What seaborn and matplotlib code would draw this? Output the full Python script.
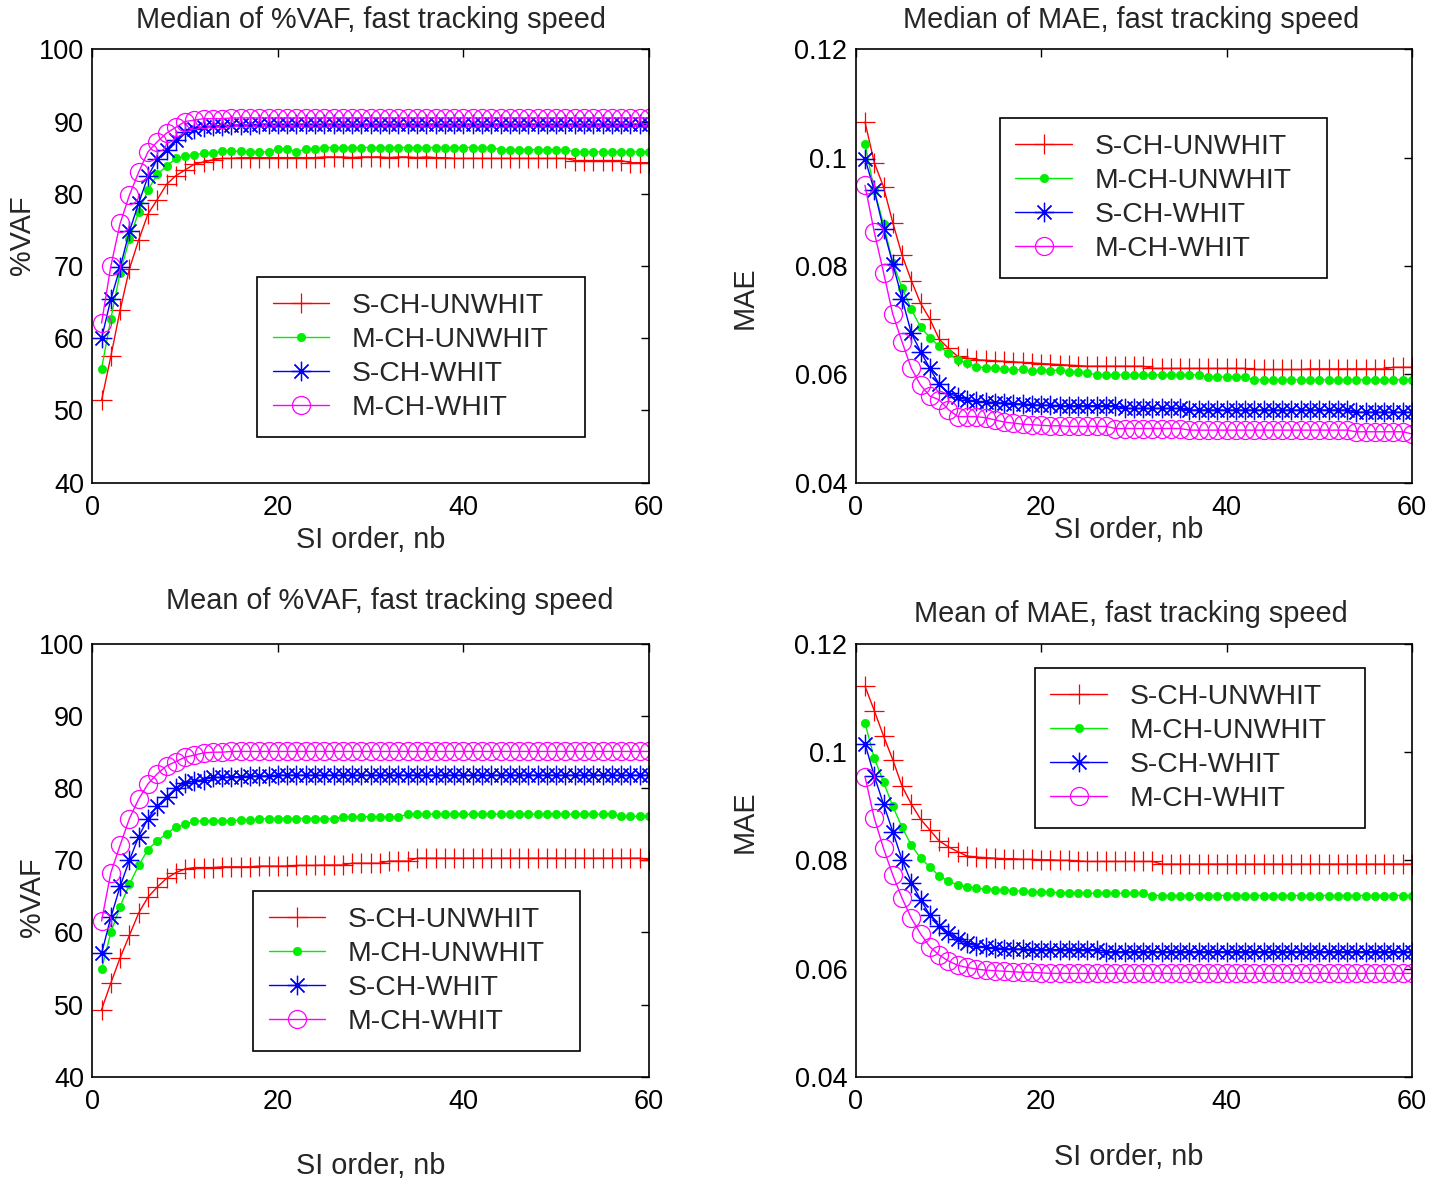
import numpy as np
import pandas as pd
import matplotlib
matplotlib.use("Agg")
import matplotlib.pyplot as plt
import seaborn as sns
from matplotlib.ticker import FormatStrFormatter

# ---------------- data ----------------
nb = list(range(1, 61))
series_names = ["S-CH-UNWHIT", "M-CH-UNWHIT", "S-CH-WHIT", "M-CH-WHIT"]

# Median of %VAF
med_vaf_s_unw = [51.4, 57.5, 63.9, 69.6, 73.6, 77.2, 79.2, 81.3, 82.5, 83.3,
                 84.1, 84.4, 84.7, 84.9, 84.9, 85.0, 85.0, 85.0, 85.0, 85.0,
                 85.0, 85.0, 85.0, 85.0, 85.1, 85.1, 85.1, 85.0, 85.1, 85.1,
                 85.1, 85.0, 85.1, 85.1, 85.0, 85.1, 85.0, 85.0, 84.9, 84.9,
                 84.9, 84.9, 84.9, 84.9, 84.9, 84.9, 84.9, 84.9, 84.9, 84.9,
                 84.9, 84.6, 84.6, 84.6, 84.6, 84.6, 84.6, 84.3, 84.3, 84.3]
med_vaf_m_unw = [55.8, 62.7, 69.1, 73.7, 77.5, 80.5, 82.7, 83.8, 84.9, 85.2,
                 85.4, 85.6, 85.6, 85.9, 85.9, 85.9, 85.8, 85.8, 85.8, 86.2,
                 86.2, 85.8, 86.2, 86.2, 86.4, 86.4, 86.4, 86.4, 86.4, 86.4,
                 86.4, 86.4, 86.4, 86.4, 86.4, 86.4, 86.4, 86.4, 86.4, 86.4,
                 86.4, 86.4, 86.4, 86.1, 86.1, 86.1, 86.1, 86.1, 86.1, 86.1,
                 86.1, 85.8, 85.8, 85.8, 85.8, 85.8, 85.8, 85.8, 85.8, 85.8]
med_vaf_s_wh = [60.0, 65.4, 69.8, 74.8, 78.7, 82.4, 84.8, 86.1, 87.5, 88.6,
                88.9, 89.2, 89.4, 89.4, 89.5, 89.5, 89.5, 89.6, 89.6, 89.6,
                89.6, 89.6, 89.6, 89.6, 89.6, 89.6, 89.6, 89.6, 89.6, 89.6,
                89.6, 89.6, 89.6, 89.6, 89.6, 89.6, 89.6, 89.6, 89.6, 89.6,
                89.6, 89.6, 89.6, 89.6, 89.6, 89.6, 89.6, 89.6, 89.6, 89.6,
                89.6, 89.6, 89.6, 89.6, 89.6, 89.6, 89.6, 89.6, 89.6, 89.6]
med_vaf_m_wh = [62.1, 70.0, 75.9, 79.8, 83.0, 85.8, 87.2, 88.4, 89.2, 90.0,
                90.2, 90.4, 90.4, 90.4, 90.5, 90.5, 90.5, 90.5, 90.5, 90.5,
                90.5, 90.5, 90.5, 90.5, 90.5, 90.5, 90.5, 90.5, 90.5, 90.5,
                90.5, 90.5, 90.5, 90.5, 90.5, 90.5, 90.5, 90.5, 90.5, 90.5,
                90.5, 90.5, 90.5, 90.5, 90.5, 90.5, 90.5, 90.5, 90.5, 90.5,
                90.5, 90.5, 90.5, 90.5, 90.5, 90.5, 90.5, 90.5, 90.5, 90.5]

# Median of MAE
med_mae_s_unw = [0.1066, 0.0991, 0.0946, 0.0880, 0.0820, 0.0773, 0.0731, 0.0702, 0.0665, 0.0648,
                 0.0633, 0.0630, 0.0627, 0.0626, 0.0625, 0.0624, 0.0623, 0.0622, 0.0621, 0.0620,
                 0.0619, 0.0618, 0.0617, 0.0616, 0.0615, 0.0615, 0.0615, 0.0615, 0.0615, 0.0615,
                 0.0615, 0.0611, 0.0611, 0.0611, 0.0611, 0.0611, 0.0611, 0.0611, 0.0611, 0.0611,
                 0.0611, 0.0611, 0.0609, 0.0609, 0.0609, 0.0609, 0.0609, 0.0609, 0.0610, 0.0610,
                 0.0610, 0.0610, 0.0610, 0.0610, 0.0610, 0.0610, 0.0610, 0.0613, 0.0613, 0.0613]
med_mae_m_unw = [0.1026, 0.0940, 0.0877, 0.0806, 0.0760, 0.0720, 0.0687, 0.0668, 0.0652, 0.0639,
                 0.0626, 0.0621, 0.0614, 0.0612, 0.0611, 0.0610, 0.0608, 0.0609, 0.0606, 0.0608,
                 0.0607, 0.0608, 0.0605, 0.0604, 0.0603, 0.0599, 0.0599, 0.0599, 0.0599, 0.0599,
                 0.0599, 0.0599, 0.0599, 0.0599, 0.0599, 0.0599, 0.0599, 0.0595, 0.0595, 0.0595,
                 0.0595, 0.0595, 0.0590, 0.0590, 0.0590, 0.0590, 0.0590, 0.0590, 0.0590, 0.0590,
                 0.0590, 0.0590, 0.0590, 0.0590, 0.0590, 0.0590, 0.0590, 0.0590, 0.0590, 0.0590]
med_mae_s_wh = [0.0998, 0.0940, 0.0868, 0.0804, 0.0740, 0.0676, 0.0642, 0.0611, 0.0582, 0.0566,
                0.0558, 0.0553, 0.0550, 0.0549, 0.0548, 0.0547, 0.0546, 0.0545, 0.0544, 0.0543,
                0.0543, 0.0542, 0.0542, 0.0542, 0.0542, 0.0542, 0.0542, 0.0542, 0.0537, 0.0537,
                0.0537, 0.0537, 0.0537, 0.0537, 0.0537, 0.0534, 0.0534, 0.0534, 0.0534, 0.0534,
                0.0534, 0.0534, 0.0534, 0.0534, 0.0534, 0.0534, 0.0534, 0.0534, 0.0534, 0.0534,
                0.0534, 0.0534, 0.0534, 0.0530, 0.0530, 0.0530, 0.0530, 0.0530, 0.0530, 0.0530]
med_mae_m_wh = [0.0949, 0.0863, 0.0788, 0.0711, 0.0660, 0.0611, 0.0580, 0.0560, 0.0553, 0.0535,
                0.0522, 0.0522, 0.0522, 0.0520, 0.0516, 0.0512, 0.0510, 0.0508, 0.0507, 0.0506,
                0.0505, 0.0505, 0.0504, 0.0504, 0.0504, 0.0504, 0.0504, 0.0500, 0.0500, 0.0500,
                0.0500, 0.0500, 0.0500, 0.0500, 0.0500, 0.0497, 0.0497, 0.0497, 0.0497, 0.0497,
                0.0497, 0.0497, 0.0497, 0.0497, 0.0497, 0.0497, 0.0497, 0.0497, 0.0497, 0.0497,
                0.0497, 0.0497, 0.0497, 0.0494, 0.0494, 0.0494, 0.0494, 0.0494, 0.0494, 0.0490]

# Mean of %VAF
mean_vaf_s_unw = [49.3, 53.0, 56.5, 59.6, 62.7, 64.9, 66.3, 67.5, 68.3, 68.8,
                  69.0, 69.0, 69.0, 69.1, 69.1, 69.1, 69.1, 69.2, 69.2, 69.2,
                  69.2, 69.3, 69.3, 69.3, 69.35, 69.35, 69.35, 69.6, 69.6, 69.6,
                  69.6, 69.9, 69.9, 69.9, 70.3, 70.3, 70.3, 70.3, 70.3, 70.3,
                  70.3, 70.3, 70.3, 70.3, 70.3, 70.3, 70.3, 70.3, 70.3, 70.3,
                  70.3, 70.3, 70.3, 70.3, 70.3, 70.3, 70.3, 70.3, 70.3, 70.1]
mean_vaf_m_unw = [54.9, 60.0, 63.6, 66.7, 69.3, 71.5, 72.7, 73.7, 74.6, 75.0,
                  75.4, 75.5, 75.5, 75.5, 75.5, 75.6, 75.6, 75.7, 75.8, 75.8,
                  75.8, 75.8, 75.8, 75.8, 75.8, 75.7, 76.05, 76.05, 76.05, 76.05,
                  76.05, 76.05, 76.05, 76.4, 76.4, 76.4, 76.4, 76.4, 76.4, 76.4,
                  76.4, 76.4, 76.4, 76.4, 76.4, 76.4, 76.4, 76.4, 76.4, 76.4,
                  76.4, 76.4, 76.4, 76.4, 76.4, 76.4, 76.1, 76.1, 76.1, 76.1]
mean_vaf_s_wh = [57.1, 62.1, 66.4, 70.0, 73.3, 75.8, 77.5, 78.8, 80.0, 80.7,
                 81.0, 81.2, 81.5, 81.5, 81.6, 81.6, 81.7, 81.7, 81.7, 81.8,
                 81.8, 81.8, 81.8, 81.8, 81.8, 81.8, 81.8, 81.8, 81.8, 81.8,
                 81.8, 81.8, 81.8, 81.8, 81.8, 81.8, 81.8, 81.8, 81.8, 81.8,
                 81.8, 81.8, 81.8, 81.8, 81.8, 81.8, 81.8, 81.8, 81.8, 81.8,
                 81.8, 81.8, 81.8, 81.8, 81.8, 81.8, 81.8, 81.8, 81.8, 81.8]
mean_vaf_m_wh = [61.6, 68.3, 72.1, 75.8, 78.5, 80.6, 82.0, 83.1, 83.7, 84.3,
                 84.6, 84.9, 85.0, 85.0, 85.1, 85.1, 85.1, 85.1, 85.1, 85.1,
                 85.1, 85.1, 85.1, 85.1, 85.1, 85.1, 85.1, 85.1, 85.1, 85.1,
                 85.1, 85.1, 85.1, 85.1, 85.1, 85.1, 85.1, 85.1, 85.1, 85.1,
                 85.1, 85.1, 85.1, 85.1, 85.1, 85.1, 85.1, 85.1, 85.1, 85.1,
                 85.1, 85.1, 85.1, 85.1, 85.1, 85.1, 85.1, 85.1, 85.1, 85.1]

# Mean of MAE
mean_mae_s_unw = [0.1122, 0.1077, 0.1030, 0.0986, 0.0937, 0.0904, 0.0876, 0.0856, 0.0836, 0.0825,
                  0.0816, 0.0808, 0.0806, 0.0805, 0.0804, 0.0803, 0.0803, 0.0802, 0.0802, 0.0801,
                  0.0801, 0.0800, 0.0800, 0.0799, 0.0798, 0.0798, 0.0798, 0.0798, 0.0798, 0.0798,
                  0.0798, 0.0798, 0.0793, 0.0793, 0.0793, 0.0793, 0.0793, 0.0793, 0.0793, 0.0793,
                  0.0793, 0.0793, 0.0793, 0.0793, 0.0793, 0.0793, 0.0793, 0.0793, 0.0793, 0.0793,
                  0.0793, 0.0793, 0.0793, 0.0793, 0.0793, 0.0793, 0.0793, 0.0793, 0.0793, 0.0793]
mean_mae_m_unw = [0.1054, 0.0989, 0.0945, 0.0900, 0.0861, 0.0828, 0.0804, 0.0788, 0.0771, 0.0762,
                  0.0754, 0.0751, 0.0748, 0.0747, 0.0746, 0.0745, 0.0744, 0.0743, 0.0742, 0.0741,
                  0.0741, 0.0740, 0.0740, 0.0739, 0.0739, 0.0739, 0.0739, 0.0739, 0.0739, 0.0739,
                  0.0739, 0.0735, 0.0735, 0.0735, 0.0735, 0.0735, 0.0735, 0.0735, 0.0735, 0.0735,
                  0.0735, 0.0735, 0.0735, 0.0735, 0.0735, 0.0735, 0.0735, 0.0735, 0.0735, 0.0735,
                  0.0735, 0.0735, 0.0735, 0.0735, 0.0735, 0.0735, 0.0735, 0.0735, 0.0735, 0.0735]
mean_mae_s_wh = [0.1016, 0.0956, 0.0904, 0.0853, 0.0801, 0.0759, 0.0727, 0.0699, 0.0679, 0.0666,
                 0.0654, 0.0647, 0.0642, 0.0639, 0.0638, 0.0637, 0.0636, 0.0636, 0.0635, 0.0635,
                 0.0635, 0.0635, 0.0635, 0.0635, 0.0635, 0.0635, 0.0631, 0.0631, 0.0631, 0.0631,
                 0.0631, 0.0631, 0.0631, 0.0631, 0.0631, 0.0631, 0.0631, 0.0631, 0.0631, 0.0631,
                 0.0631, 0.0631, 0.0631, 0.0631, 0.0631, 0.0631, 0.0631, 0.0631, 0.0631, 0.0631,
                 0.0631, 0.0631, 0.0631, 0.0631, 0.0631, 0.0631, 0.0631, 0.0631, 0.0631, 0.0631]
mean_mae_m_wh = [0.0955, 0.0878, 0.0822, 0.0773, 0.0730, 0.0693, 0.0664, 0.0640, 0.0625, 0.0614,
                 0.0606, 0.0602, 0.0599, 0.0597, 0.0596, 0.0595, 0.0594, 0.0593, 0.0593, 0.0592,
                 0.0591, 0.0591, 0.0591, 0.0591, 0.0591, 0.0591, 0.0591, 0.0591, 0.0591, 0.0591,
                 0.0591, 0.0591, 0.0591, 0.0591, 0.0591, 0.0591, 0.0591, 0.0591, 0.0591, 0.0591,
                 0.0591, 0.0591, 0.0591, 0.0591, 0.0591, 0.0591, 0.0591, 0.0591, 0.0591, 0.0591,
                 0.0591, 0.0591, 0.0591, 0.0591, 0.0591, 0.0591, 0.0591, 0.0591, 0.0591, 0.0591]

titles = ["Median of %VAF, fast tracking speed", "Median of MAE, fast tracking speed",
          "Mean of %VAF, fast tracking speed", "Mean of MAE, fast tracking speed"]
xlabel = "SI order, nb"
ylabels = ["%VAF", "MAE", "%VAF", "MAE"]
x_ticks = [0, 20, 40, 60]
vaf_ticks = [40, 50, 60, 70, 80, 90, 100]
mae_ticks = [0.04, 0.06, 0.08, 0.1, 0.12]

# ---------------- style ----------------
sns.set_style("white")
plt.rcParams["font.family"] = ["Liberation Sans", "DejaVu Sans"]
FS_TICK = 19.5
FS_LAB = 20.8
FS_LEG = 20.4

styles = [
    dict(color="#FF0000", marker="+", markersize=15, markeredgecolor="#FF0000",
         markerfacecolor="#FF0000", markeredgewidth=0.9),
    dict(color="#00EE00", marker="o", markersize=6, markeredgecolor="#00EE00",
         markerfacecolor="#00EE00", markeredgewidth=0.5),
    dict(color="#0000FF", marker=(8, 2, 0), markersize=14, markeredgecolor="#0000FF",
         markerfacecolor="#0000FF", markeredgewidth=0.9),
    dict(color="#FF00FF", marker="o", markersize=13, markeredgecolor="#FF00FF",
         markerfacecolor="none", markeredgewidth=0.9),
]

panels = [
    [med_vaf_s_unw, med_vaf_m_unw, med_vaf_s_wh, med_vaf_m_wh],
    [med_mae_s_unw, med_mae_m_unw, med_mae_s_wh, med_mae_m_wh],
    [mean_vaf_s_unw, mean_vaf_m_unw, mean_vaf_s_wh, mean_vaf_m_wh],
    [mean_mae_s_unw, mean_mae_m_unw, mean_mae_s_wh, mean_mae_m_wh],
]

W, H = 1445, 1184
fig = plt.figure(figsize=(W / 100, H / 100), dpi=100)

def px_axes(l, t, r, b):
    return fig.add_axes([l / W, 1 - b / H, (r - l) / W, (b - t) / H])

axes = [
    px_axes(92.3, 49.3, 649, 482.7),
    px_axes(855.7, 49.3, 1412, 482.7),
    px_axes(92.3, 644, 649, 1076.7),
    px_axes(855.7, 644, 1412, 1076.7),
]

title_pos = [(0.50, 1.068), (0.495, 1.068), (0.535, 1.099), (0.495, 1.069)]
xlab_pos = [(0.50, -0.132), (0.49, -0.109), (0.50, -0.206), (0.49, -0.186)]
ylab_pos = [(-0.126, 0.571), (-0.199, 0.426), (-0.108, 0.415), (-0.199, 0.589)]
# legend boxes: (left, top, width) in axes fractions
leg_box = [(0.296, 0.4746, 0.589), (0.259, 0.8415, 0.588),
           (0.289, 0.429, 0.587), (0.322, 0.9445, 0.593)]

for i, ax in enumerate(axes):
    for name, vals, st in zip(series_names, panels[i], styles):
        df = pd.DataFrame({"nb": nb, "val": vals})
        sns.lineplot(data=df, x="nb", y="val", ax=ax, label=name, linewidth=1.0,
                     estimator=None, **st)
    ax.set_xlim(0, 60)
    ax.set_xticks(x_ticks)
    if i % 2 == 0:
        ax.set_ylim(40, 100)
        ax.set_yticks(vaf_ticks)
    else:
        ax.set_ylim(0.04, 0.12)
        ax.set_yticks(mae_ticks)
        ax.yaxis.set_major_formatter(FormatStrFormatter("%g"))
    ax.tick_params(direction="in", top=True, right=True, length=6, width=1,
                   labelsize=FS_TICK, colors="black")
    ax.tick_params(axis="x", pad=9)
    ax.tick_params(axis="y", pad=6)
    for sp in ax.spines.values():
        sp.set_color("black")
        sp.set_linewidth(1.2)
    ax.set_xlabel("")
    ax.set_ylabel("")
    ax.text(title_pos[i][0], title_pos[i][1], titles[i], transform=ax.transAxes,
            ha="center", va="center", fontsize=FS_LAB)
    ax.text(xlab_pos[i][0], xlab_pos[i][1], xlabel, transform=ax.transAxes,
            ha="center", va="center", fontsize=FS_LAB)
    ax.text(ylab_pos[i][0], ylab_pos[i][1], ylabels[i], transform=ax.transAxes,
            ha="center", va="center", fontsize=FS_LAB, rotation=90)
    l0, t0, w0 = leg_box[i]
    leg = ax.legend(loc="upper left", bbox_to_anchor=(l0, t0 - 0.3, w0, 0.3),
                    mode="expand", borderaxespad=0,
                    frameon=True, fancybox=False, framealpha=1, edgecolor="black",
                    fontsize=FS_LEG, handlelength=2.0, handletextpad=0.8,
                    labelspacing=0.29, borderpad=0.55)
    leg.get_frame().set_linewidth(1.2)

fig.savefig("out.png", dpi=100, facecolor="white")
